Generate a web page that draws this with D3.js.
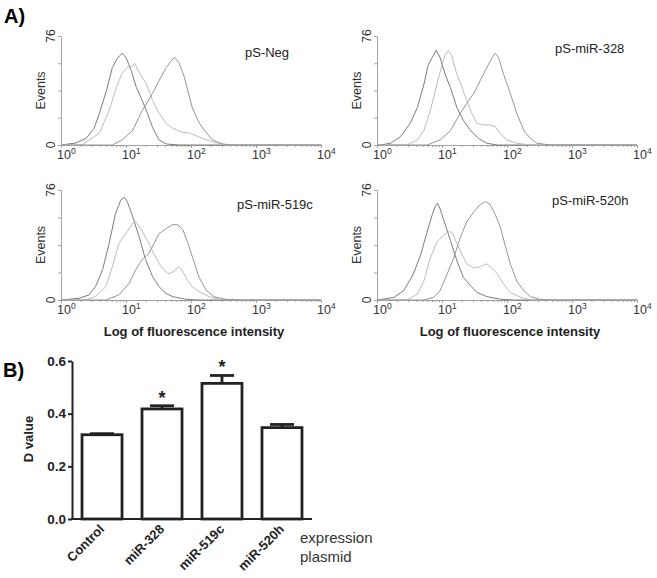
<!DOCTYPE html>
<html><head><meta charset="utf-8">
<script src="https://cdn.jsdelivr.net/npm/d3@7"></script>
<style>
body{margin:0;background:#fff}
svg{display:block}
text{font-family:"Liberation Sans",Arial,Helvetica,sans-serif}
</style>
</head><body>
<svg id="c" width="657" height="578"></svg>
<script>
// ---------- Panel A data ----------
const panelTitles = ["pS-Neg", "pS-miR-328", "pS-miR-519c", "pS-miR-520h"];
const xTickExponents = [0, 1, 2, 3, 4];
const eventsTicks = [0, 19, 38, 57, 76];
const eventsMax = 76;
const xAxisTitle = "Log of fluorescence intensity";
const yAxisTitle = "Events";

// curves: [log10(intensity), events]
const negLeft = [[0,0],[0.23,1.4],[0.39,4.8],[0.51,11.7],[0.59,22],[0.70,38],[0.79,54],[0.86,60],[0.94,64],[1.0,61],[1.08,52],[1.16,40],[1.25,31],[1.33,22],[1.41,12],[1.51,3.5],[1.62,0.7],[1.82,0],[4,0]];
const negMid = [[0,0],[0.32,0],[0.59,8.3],[0.74,24],[0.85,40],[0.94,50],[1.02,54],[1.10,55],[1.13,57],[1.21,50],[1.31,43],[1.41,31],[1.51,22],[1.62,15],[1.71,12],[1.85,9],[1.98,8.3],[2.13,5.5],[2.25,3.5],[2.39,1.4],[2.55,0],[4,0]];
const negRight = [[0,0],[0.79,0],[0.94,3.5],[1.10,10],[1.25,24],[1.41,36],[1.51,45],[1.62,54],[1.70,59],[1.75,61],[1.82,57],[1.90,47],[1.95,38],[2.02,26],[2.13,15],[2.24,8.3],[2.33,3.5],[2.49,0.7],[2.64,0],[4,0]];

const m328Left = [[0,0],[0.05,0],[0.21,1.2],[0.36,5.8],[0.51,15],[0.62,26],[0.72,42],[0.79,56],[0.85,61],[0.91,66],[0.97,61],[1.05,49],[1.13,40],[1.23,26],[1.33,17],[1.44,10],[1.56,4.6],[1.69,1.2],[1.85,0],[4,0]];
const m328Mid = [[0,0],[0.46,0],[0.62,3.5],[0.72,10],[0.82,24],[0.92,42],[1.0,56],[1.05,63],[1.10,66],[1.15,62],[1.23,49],[1.31,40],[1.38,31],[1.46,22],[1.54,15],[1.64,14],[1.74,14],[1.82,12.7],[1.90,8],[2.0,3.5],[2.15,1.2],[2.36,0],[4,0]];
const m328Right = [[0,0],[0.77,0],[0.97,3.5],[1.13,10],[1.28,22],[1.38,29],[1.49,36],[1.59,45],[1.69,54],[1.77,61],[1.82,64],[1.87,61],[1.95,49],[2.05,36],[2.15,22],[2.26,10],[2.36,4.6],[2.46,1.2],[2.67,0],[4,0]];

const m519Left = [[0,0],[0.28,1.2],[0.43,3.5],[0.53,9.2],[0.64,21],[0.74,39],[0.84,60],[0.92,69],[0.97,71],[1.02,68],[1.10,58],[1.20,44],[1.30,28],[1.41,16],[1.51,9.2],[1.61,4.6],[1.72,2.3],[1.92,0.5],[2.1,0],[4,0]];
const m519Mid = [[0,0],[0.38,0],[0.53,2.3],[0.69,9.2],[0.79,23],[0.89,39],[1.0,46],[1.10,53],[1.15,54],[1.23,49],[1.33,41],[1.43,32],[1.51,25],[1.58,21],[1.66,18],[1.74,20],[1.81,23],[1.86,21],[1.94,14],[2.02,9.2],[2.12,5.8],[2.28,2.3],[2.43,0.5],[2.64,0],[4,0]];
const m519Right = [[0,0],[0.69,0],[0.89,3.5],[1.05,11.5],[1.15,21],[1.25,28],[1.35,32],[1.43,39],[1.51,46],[1.61,49],[1.71,52],[1.79,52],[1.87,49],[1.94,41],[2.02,30],[2.12,16],[2.23,7],[2.35,2.3],[2.53,0.5],[2.74,0],[4,0]];

const m520Left = [[0,0],[0.26,1.8],[0.41,6.4],[0.56,18],[0.67,31],[0.77,47],[0.85,59],[0.90,65],[0.93,67],[0.97,63],[1.05,52],[1.13,41],[1.23,27],[1.33,15.5],[1.44,9.8],[1.54,5.2],[1.69,2.3],[1.90,0.5],[2.1,0],[4,0]];
const m520Mid = [[0,0],[0.46,0],[0.62,4.1],[0.72,13],[0.82,29],[0.92,40],[1.03,45],[1.10,47],[1.15,47],[1.23,39],[1.31,31],[1.38,25],[1.49,22],[1.59,23],[1.69,25],[1.77,22],[1.85,18],[1.95,11],[2.05,5.2],[2.21,1.8],[2.36,0.2],[2.5,0],[4,0]];
const m520Right = [[0,0],[0.72,0],[0.87,1.8],[0.97,6.4],[1.08,18],[1.18,29],[1.28,43],[1.38,54],[1.49,61],[1.59,66],[1.67,68],[1.74,66],[1.82,59],[1.90,50],[1.97,38],[2.05,25],[2.15,13],[2.26,6.4],[2.36,2.3],[2.51,0.5],[2.65,0],[4,0]];

const panelCurves = [
  [negLeft, negMid, negRight],
  [m328Left, m328Mid, m328Right],
  [m519Left, m519Mid, m519Right],
  [m520Left, m520Mid, m520Right]
];

// ---------- Panel B data ----------
const barCategories = ["Control", "miR-328", "miR-519c", "miR-520h"];
const barValues = [0.320, 0.418, 0.515, 0.347];
const barErrors = [0.004, 0.012, 0.030, 0.012];
const barSignificant = [false, true, true, false];
const barYTicks = [0.0, 0.2, 0.4, 0.6];
const barYTitle = "D value";
const barXTitle = ["expression", "plasmid"];

// ---------- drawing ----------
const svg = d3.select("#c");
const curveColors = ["#7c7c7c", "#bcbcbc", "#959595"];
const axisColor = "#8a8a8a";

const layout = [
  {x0: 61, x1: 321, yT: 36, yB: 145},
  {x0: 377, x1: 637, yT: 36, yB: 145},
  {x0: 61, x1: 321, yT: 190, yB: 300},
  {x0: 377, x1: 637, yT: 190, yB: 300}
];
const titlePos = [[245, 57], [555, 53], [237, 209], [552, 205]];

svg.append("text").attr("x", 4).attr("y", 23).attr("font-size", 20).attr("font-weight", "bold").text("A)");
svg.append("text").attr("x", 3).attr("y", 377).attr("font-size", 20).attr("font-weight", "bold").text("B)");

const minorVals = [];
for (let e = 0; e < 4; e++) for (let m = 2; m <= 9; m++) minorVals.push(m * Math.pow(10, e));

layout.forEach((L, i) => {
  const g = svg.append("g");
  const x = d3.scaleLog().domain([1, 10000]).range([L.x0, L.x1]);
  const y = d3.scaleLinear().domain([0, eventsMax]).range([L.yB, L.yT]);

  const xa = g.append("g").attr("transform", `translate(0,${L.yB})`)
    .call(d3.axisBottom(x).tickValues(xTickExponents.map(e => Math.pow(10, e))).tickFormat("").tickSize(3).tickSizeOuter(0));
  const xm = g.append("g").attr("transform", `translate(0,${L.yB})`)
    .call(d3.axisBottom(x).tickValues(minorVals).tickFormat("").tickSize(2).tickSizeOuter(0));
  [xa, xm].forEach(a => { a.selectAll("path,line").attr("stroke", axisColor).attr("stroke-width", 0.8); });
  xm.select("path").remove();

  const ya = g.append("g").attr("transform", `translate(${L.x0},0)`)
    .call(d3.axisLeft(y).tickValues(eventsTicks).tickFormat("").tickSize(3).tickSizeOuter(0));
  ya.selectAll("path,line").attr("stroke", axisColor).attr("stroke-width", 0.8);

  xTickExponents.forEach(e => {
    const t = g.append("text").attr("x", x(Math.pow(10, e)) - 4).attr("y", L.yB + 14)
      .attr("font-size", 12.5).attr("fill", "#333");
    t.append("tspan").text("10");
    t.append("tspan").attr("dy", -5).attr("font-size", 8.5).text(String(e));
  });

  [0, eventsMax].forEach(v => {
    g.append("text").attr("transform", `translate(${L.x0 - 6},${y(v)}) rotate(-90)`)
      .attr("text-anchor", "middle").attr("font-size", 12).attr("fill", "#333").text(String(v));
  });
  g.append("text").attr("transform", `translate(${L.x0 - 16},${(L.yT + L.yB) / 2}) rotate(-90)`)
    .attr("text-anchor", "middle").attr("font-size", 12.5).attr("fill", "#333").text(yAxisTitle);

  g.append("text").attr("x", titlePos[i][0]).attr("y", titlePos[i][1]).attr("font-size", 13).attr("fill", "#222").text(panelTitles[i]);

  const line = d3.line().x(d => x(Math.pow(10, d[0]))).y(d => y(d[1]));
  panelCurves[i].forEach((c, k) => {
    g.append("path").attr("d", line(c)).attr("fill", "none").attr("stroke", curveColors[k]).attr("stroke-width", 1);
  });

  if (i >= 2) {
    g.append("text").attr("x", (L.x0 + L.x1) / 2 + 3).attr("y", L.yB + 36).attr("text-anchor", "middle")
      .attr("font-size", 13).attr("font-weight", "bold").attr("fill", "#222").text(xAxisTitle);
  }
});

// ---------- Panel B ----------
const bx = d3.scaleBand().domain(barCategories).range([72, 312]).paddingInner(0.333).paddingOuter(0.167);
const by = d3.scaleLinear().domain([0, 0.6]).range([519, 361]);
const dark = "#222";
const gb = svg.append("g");

gb.selectAll("rect.bar").data(barCategories).enter().append("rect")
  .attr("x", d => bx(d)).attr("width", bx.bandwidth())
  .attr("y", (d, i) => by(barValues[i])).attr("height", (d, i) => by(0) - by(barValues[i]))
  .attr("fill", "#fff").attr("stroke", dark).attr("stroke-width", 2.8);

barCategories.forEach((d, i) => {
  const cx = bx(d) + bx.bandwidth() / 2;
  const top = by(barValues[i] + barErrors[i]);
  gb.append("line").attr("x1", cx).attr("x2", cx).attr("y1", by(barValues[i])).attr("y2", top).attr("stroke", dark).attr("stroke-width", 2.8);
  gb.append("line").attr("x1", cx - 12).attr("x2", cx + 12).attr("y1", top).attr("y2", top).attr("stroke", dark).attr("stroke-width", 2.8);
  if (barSignificant[i]) {
    gb.append("text").attr("x", cx).attr("y", top - 2).attr("text-anchor", "middle")
      .attr("font-size", 18).attr("font-weight", "bold").attr("fill", dark).text("*");
  }
});

const yAxisB = gb.append("g").attr("transform", "translate(72,0)")
  .call(d3.axisLeft(by).tickValues(barYTicks).tickFormat(d3.format(".1f")).tickSize(4).tickSizeOuter(0));
yAxisB.selectAll("path,line").attr("stroke", dark).attr("stroke-width", 2);
yAxisB.selectAll("text").attr("font-size", 13.5).attr("font-weight", "bold").attr("fill", dark).attr("dx", 1)
  .style("font-family", '"Liberation Sans",Arial,sans-serif');

gb.append("line").attr("x1", 71).attr("x2", 312).attr("y1", 519).attr("y2", 519).attr("stroke", dark).attr("stroke-width", 2);

barCategories.forEach(d => {
  const cx = bx(d) + bx.bandwidth() / 2 + 3;
  gb.append("text").attr("transform", `translate(${cx},530) rotate(-45)`).attr("text-anchor", "end")
    .attr("font-size", 13).attr("font-weight", "bold").attr("fill", dark).text(d);
});

gb.append("text").attr("transform", "translate(33,439) rotate(-90)").attr("text-anchor", "middle")
  .attr("font-size", 13).attr("font-weight", "bold").attr("fill", dark).text(barYTitle);

barXTitle.forEach((t, k) => {
  gb.append("text").attr("x", 300).attr("y", 543 + k * 19).attr("font-size", 15).attr("fill", "#333").text(t);
});
</script>
</body></html>
